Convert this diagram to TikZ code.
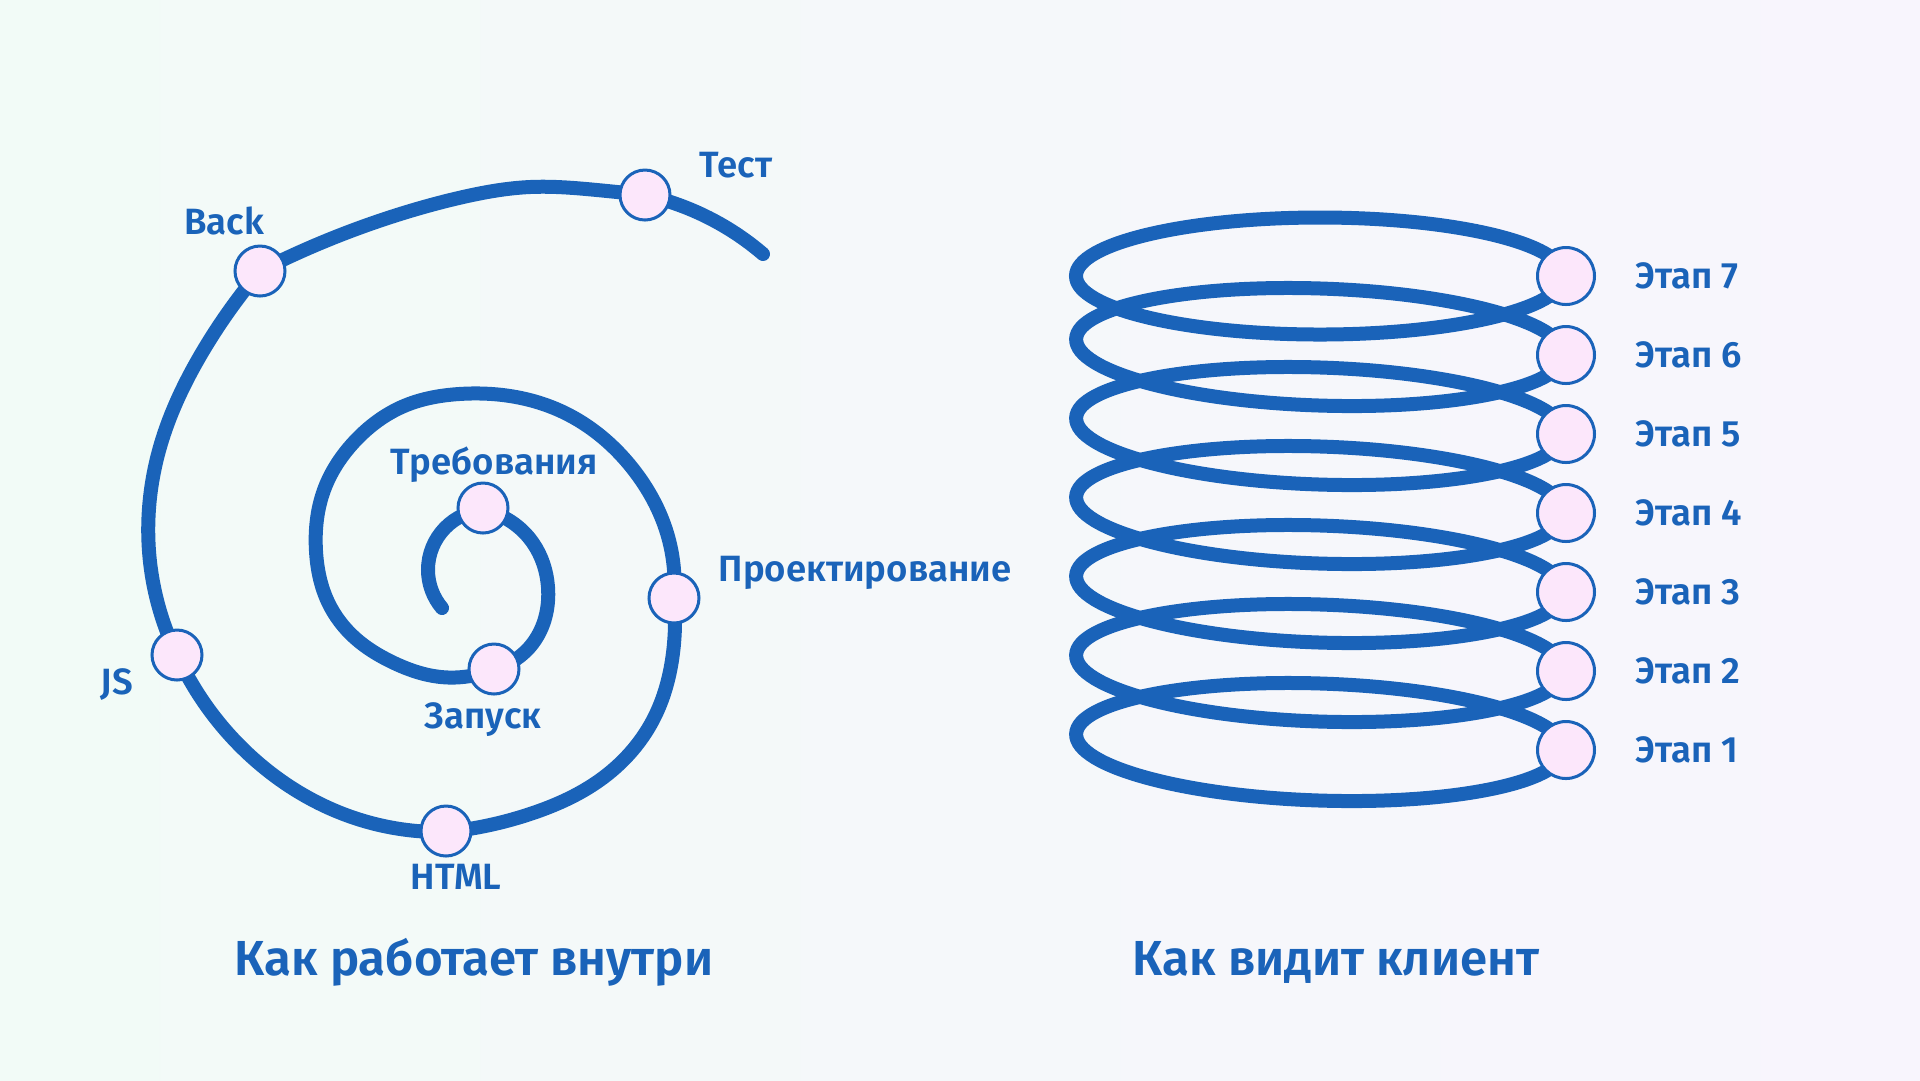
\documentclass[tikz,border=0pt]{standalone}
\usepackage{fontspec}
\setmainfont{Fira Sans SemiBold}
\usetikzlibrary{positioning,hobby}
\definecolor{spiralblue}{HTML}{1A63B9}
\definecolor{dotpink}{HTML}{FCE7FB}
\definecolor{bgmint}{HTML}{F2FBF7}
\definecolor{bglilac}{HTML}{F8F5FD}
\tikzset{font=\fontsize{10.4pt}{12pt}\selectfont}

\begin{document}
\begin{tikzpicture}[x=0.1mm, y=-0.1mm,
    line/.style={draw=spiralblue, line width=1.4mm, line cap=round, use Hobby shortcut},
    coil/.style={draw=spiralblue, line width=1.4mm},
    dot/.style={circle, draw=spiralblue, line width=0.3mm, fill=dotpink, minimum size=5.0mm, inner sep=0},
    bigdot/.style={dot, minimum size=5.7mm},
    tag/.style={text=spiralblue, inner sep=0, text height=2.5mm, text depth=0mm},
    title/.style={tag, font=\fontsize{14pt}{16pt}\selectfont, text height=3.4mm}]

  \shade[left color=bgmint, right color=bglilac] (0,0) rectangle (1920,1080);
  \useasboundingbox (0,0) rectangle (1920,1080);

  \coordinate (core) at (442,608);
  \coordinate (tail) at (763,254);
  \coordinate (req) at (483,510);
  \coordinate (run) at (494,669);
  \coordinate (proj) at (674,598);
  \coordinate (html) at (446,832);
  \coordinate (js) at (177,655);
  \coordinate (back) at (260,271);
  \coordinate (test) at (645,195);

  % spiral, from the centre outwards
  \draw[line] (core) .. (428,570) .. (445,528) .. (req);
  \draw[line] (req) .. (533,543) .. (548,587) .. (533,643) .. (run);
  \draw[line] (run) .. (441,677) .. (392,662) .. (355,638) .. (328,602) .. (316,551)
    .. (324,490) .. (355,441) .. (404,406) .. (459,394) .. (563,412) .. (633,469)
    .. (667,533) .. (proj);
  \draw[line] (proj) .. (673,653) .. (653,720) .. (600,780) .. (533,813) .. (html);
  \draw[line] (html) .. (346,815) .. (255,760) .. (js);
  \draw[line] (js) .. (149,551) .. (160,447) .. (203,351) .. (back);
  \draw[line] (back) .. (397,215) .. (463,197) .. (530,187) .. (597,190) .. (test);
  \draw[line] (test) .. (713,220) .. (tail);

  \node[dot] (reqdot) at (483,508) {};
  \node[dot] (rundot) at (494,669) {};
  \node[dot] (projdot) at (674,598) {};
  \node[dot] (htmldot) at (446,831) {};
  \node[dot] (jsdot) at (177,655) {};
  \node[dot] (backdot) at (260,271) {};
  \node[dot] (testdot) at (645,195) {};

  \node[tag] (reqlbl) at (494,462) {Требования};
  \node[tag] (runlbl) at (483,716) {Запуск};
  \node[tag, anchor=west] (projlbl) at (718,569) {Проектирование};
  \node[tag] (htmllbl) at (456,877) {HTML};
  \node[tag] (jslbl) at (117,682) {JS};
  \node[tag] (backlbl) at (224,222) {Back};
  \node[tag] (testlbl) at (736,165) {Тест};

  % coil, one ring per stage
  \draw[coil, rotate around={-1.9:(1320,742)}] (1320,742) ellipse [x radius=244, y radius=58.5];
  \draw[coil, rotate around={-1.9:(1320,663)}] (1320,663) ellipse [x radius=244, y radius=58.5];
  \draw[coil, rotate around={-1.9:(1320,584)}] (1320,584) ellipse [x radius=244, y radius=58.5];
  \draw[coil, rotate around={-1.9:(1320,505)}] (1320,505) ellipse [x radius=244, y radius=58.5];
  \draw[coil, rotate around={-1.9:(1320,426)}] (1320,426) ellipse [x radius=244, y radius=58.5];
  \draw[coil, rotate around={-1.9:(1320,347)}] (1320,347) ellipse [x radius=244, y radius=58.5];
  \draw[coil] (1320,276) ellipse [x radius=244, y radius=58.5];

  \node[bigdot] (s1) at (1566,750) {};
  \node[bigdot] (s2) at (1566,671) {};
  \node[bigdot] (s3) at (1566,592) {};
  \node[bigdot] (s4) at (1566,513) {};
  \node[bigdot] (s5) at (1566,434) {};
  \node[bigdot] (s6) at (1566,355) {};
  \node[bigdot] (s7) at (1566,276) {};

  \node[tag, right=3.9mm of s1] {Этап 1};
  \node[tag, right=3.9mm of s2] {Этап 2};
  \node[tag, right=3.9mm of s3] {Этап 3};
  \node[tag, right=3.9mm of s4] {Этап 4};
  \node[tag, right=3.9mm of s5] {Этап 5};
  \node[tag, right=3.9mm of s6] {Этап 6};
  \node[tag, right=3.9mm of s7] {Этап 7};

  \node[title] (inside) at (474,958) {Как работает внутри};
  \node[title] (client) at (1336,958) {Как видит клиент};
\end{tikzpicture}
\end{document}
